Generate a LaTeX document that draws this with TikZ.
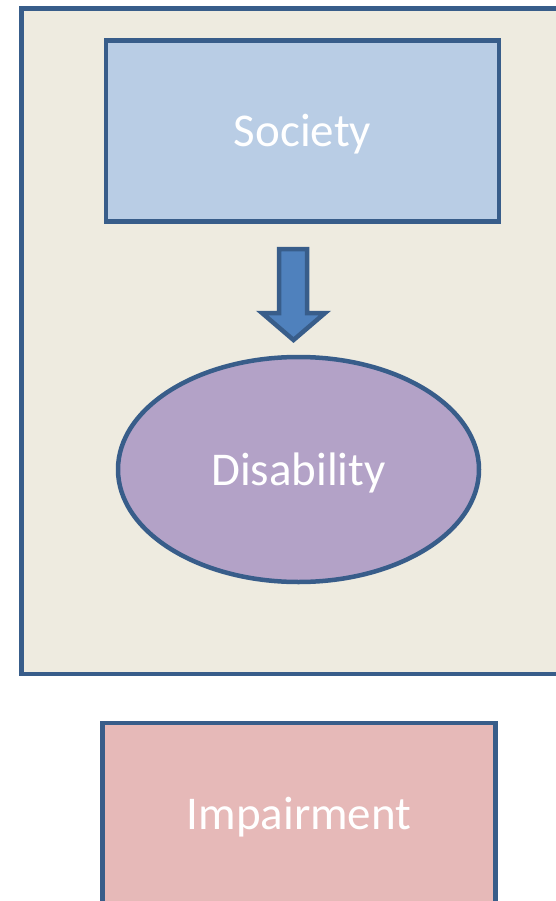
\documentclass[tikz,border=0pt]{standalone}
\usepackage{fontspec}
\setmainfont{Carlito}
\usetikzlibrary{shapes.geometric}
\definecolor{edgeblue}{HTML}{385D8A}
\definecolor{panelfill}{HTML}{EEEBE0}
\definecolor{societyfill}{HTML}{B9CDE5}
\definecolor{arrowfill}{HTML}{4F81BD}
\definecolor{disabfill}{HTML}{B3A2C7}
\definecolor{impairfill}{HTML}{E6B9B8}
\tikzset{
  blockbox/.style={rectangle, draw=edgeblue, line width=4.5pt, inner sep=0pt,
    text=white, text height=31pt, text depth=0pt, font=\fontsize{47}{56}\selectfont},
}
\begin{document}
\begin{tikzpicture}[x=1pt,y=-1pt]
\clip (0,0) rectangle (556,901);
\fill[white] (0,0) rectangle (556,901);
\node[blockbox, fill=panelfill, minimum width=558.5pt, minimum height=665.5pt] (frame) at (300.75,341.25){};
\node[blockbox, fill=societyfill, minimum width=393pt, minimum height=181pt] (society) at (302.5,131){Society};
\node[blockbox, ellipse, fill=disabfill, minimum width=361pt, minimum height=225pt] (disability) at (298.5,469.5){Disability};
\node[blockbox, fill=impairfill, minimum width=393pt, minimum height=181pt] (impairment) at (299,813.5){Impairment};
\draw[edgeblue, line width=4.5pt, fill=arrowfill] (279,249) -- (307,249) -- (307,313) -- (325,313)
  -- (293.5,340) -- (262,313) -- (279,313) -- cycle;
\end{tikzpicture}
\end{document}
